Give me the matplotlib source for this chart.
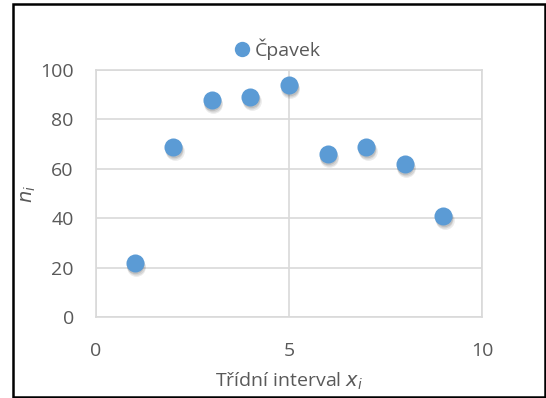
import matplotlib
matplotlib.use('Agg')
import matplotlib.pyplot as plt
import matplotlib.transforms as mtransforms
from matplotlib.patches import Rectangle

# data
interval = [1, 2, 3, 4, 5, 6, 7, 8, 9]
counts = [22, 69, 88, 89, 94, 66, 69, 62, 41]
x_ticks = [0, 5, 10]
y_ticks = [0, 20, 40, 60, 80, 100]
series_name = 'Čpavek'

plt.rcParams['font.family'] = ['Open Sans', 'DejaVu Sans']
txt_color = '#595959'
grid_color = '#d9d9d9'
blue = '#5b9bd5'

fig = plt.figure(figsize=(5.46, 3.98), dpi=100)
W, H = 546.0, 398.0
ax = fig.add_axes([96/W, 1-317/H, (482-96)/W, (317-70)/H])

# soft shadow under markers
for k, (dx, dy, a) in enumerate([(1.0, -3.0, 0.10), (0.7, -2.2, 0.12), (0.4, -1.5, 0.15)]):
    tr = mtransforms.offset_copy(ax.transData, fig=fig, x=dx, y=dy, units='points')
    ax.plot(interval, counts, 'o', ms=13.5 - k*0.5, color='#404040', alpha=a,
            markeredgewidth=0, transform=tr, zorder=3)
ax.plot(interval, counts, 'o', ms=13, color=blue, markeredgewidth=0, zorder=4, label=series_name)

ax.set_xlim(0, 10)
ax.set_ylim(0, 100)
ax.set_xticks(x_ticks)
ax.set_yticks(y_ticks)
ax.grid(True, color=grid_color, linewidth=1.2)
ax.set_axisbelow(True)
for sp in ax.spines.values():
    sp.set_color(grid_color)
    sp.set_linewidth(1.2)
ax.tick_params(length=0, labelsize=14, labelcolor=txt_color)
ax.tick_params(axis='y', pad=16)
ax.tick_params(axis='x', pad=18)

ax.set_xlabel('Třídní interval $x_i$', fontsize=14, color=txt_color, labelpad=8)
ax.set_ylabel('$n_i$', fontsize=14, color=txt_color)
ax.yaxis.set_label_coords(-0.15, 0.5)

leg = ax.legend(loc='lower center', bbox_to_anchor=(0.47, 1.0), frameon=False,
                fontsize=14, handlelength=0.8, handletextpad=0.3,
                borderaxespad=0.1, markerscale=0.85)
for t in leg.get_texts():
    t.set_color(txt_color)

fig.patches.append(Rectangle((13/W, 1/H), 1-14/W, 1-5/H, transform=fig.transFigure,
                             fill=False, edgecolor='black', linewidth=1.8))

fig.savefig('out.png', dpi=100)
